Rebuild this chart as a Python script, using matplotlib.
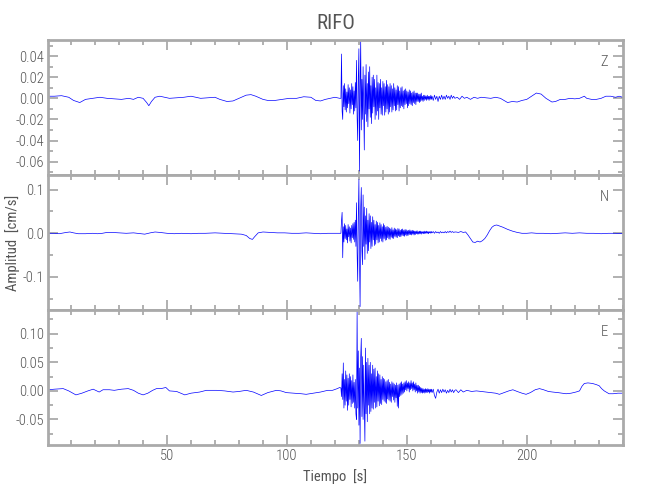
import numpy as np
import matplotlib
matplotlib.use('Agg')
import matplotlib.pyplot as plt
from matplotlib.ticker import MultipleLocator, FormatStrFormatter
from matplotlib import font_manager

station = 'RIFO'
components = ['Z', 'N', 'E']
scale = 1e-3   # todos los valores en 1e-3 cm/s

# tramo en calma antes del arribo (tiempo, amplitud)
z_pre_t = [0.5, 3, 6, 9, 11, 13.6, 16, 19, 22, 25, 28, 31, 34, 36, 38, 40, 41.5, 42.4, 43.5, 45, 47, 49,
           51, 54, 57, 60, 62, 64, 67, 70, 72, 75, 77.5, 80, 83, 85, 87, 90, 92, 95, 98, 101, 104, 107,
           110, 112, 114, 116, 118, 120, 122]
z_pre_v = [2, 2, 2.5, 1, -2, -4, -1, 0, 1, 0, -0.5, -1, 0, -1, 1, 0, -4, -7, -3, 1, 2, 1, 0, 0.5, 1, 2,
           1, 0, 0.5, 1, -1, -3, -2.5, 0, 3, 3.5, 2, -1, -2, -2, -1, 0, 0, 1.5, 1, -2, -2.5, -1, 0, 1, 0]
# fase fuerte, muestras cada 0.25 s desde 122.5 s
z_burst = [0, 42, -12, -20,  12, -8, 14, -11,  9, -13, 6, -9,  13, -5, 10, -14,
           8, -10, 14, -6,  11, -15, 7, -12,  15, -9, 36, -18,  -40, 20, 47, -69,
           10, 55, -30, 18,  -20, 30, -12, -49,  22, -15, 32, -22,  14, -27, 25, -10,
           30, -18, 12, -24,  20, -14, 22, -8,  18, -20, 10, -16,  22, -12, 15, -20,
           14, -9, 18, -15,  10, -16, 16, -7,  14, -16, 11, -13,  17, -10, 13, -15,
           11, -13, 14, -8,  12, -13, 9, -11,  14, -7, 10, -12,  8, -11, 12, -6,
           11, -12, 7, -9,  10, -7, 11, -8,  7, -10, 8, -6,  9, -5, 7, -9,
           6, -7, 8, -5,  7, -6, 5, -7,  6, -4, 7, -5,  5, -6, 5, -3,
           5, -3, 4, -4,  4, -3, 5, -2,  2, -3, 3, -2,  3, -1, 2, -2,
           3, -1, 2, -2,  2, -1, 3, -1]
z_post_t = [160.5, 161, 161.5, 162, 162.5, 163, 163.5, 164, 164.5, 165, 165.5, 166, 166.5, 167, 167.5,
            168, 168.5, 169, 169.5, 170, 171, 172, 173, 174, 175, 176.5, 178, 179.5, 181, 183, 185, 187,
            189, 190.5, 192, 194, 196, 198, 200, 202, 204, 206, 208, 210.5, 212, 214, 216, 218, 220, 222,
            224, 225, 227, 229, 231, 233, 235, 237, 238.5, 240]
z_post_v = [2, -2, 3, -1, 2, -3, 2, -1, 3, -1, 2, -1, 3, 0, 2, -1, 3, 0, 2, 0,
            1, -1, 2, 0, 1, -1, 1, 0, 1, 0.5, 0, 1, 0, -2, -4, -3, -3.5, -2, -1, 2, 5, 4, 0, -3.5, -3,
            -1, -1, 0, -0.5, 0, 2, 0, -1, -1, 0, 2, 2, 1, 2, 1]

n_pre_t = [0.5, 3, 5, 8, 9.5, 11, 13, 16, 19, 21, 23, 25, 27, 30, 33, 36, 39, 40.7, 43, 45, 47, 50, 53,
           56, 60, 63, 66, 70, 74, 78, 81, 83, 84.5, 85.6, 86.5, 88, 90, 93, 96, 99, 102, 105, 108, 111,
           114, 117, 120, 122]
n_pre_v = [0, 0, -1, 2, 3, 1, -1, -1, 0, -1, 0, 2, 2, 1, 0, 1, -1, -2, 1, 3, 2, 0, -1, 0, -1, 0, 0, 1,
           0, -1, -2, -5, -12, -14, -8, 1, 3, 2, 1, 1, 0, 0, 1, 0, -1, 0, 0, 0]
n_burst = [0, 30, 48, -56,  15, -20, 22, -12,  18, -15, 10, -22,  20, -8, 15, -18,
           12, -22, 18, -10,  22, -14, 25, -20,  30, -30, 70, -45,  -110, 40, 123, -60,
           -168, 60, 105, -40,  -72, 88, -30, 60,  -60, 40, -25, 57,  -46, 30, -40, 45,
           -20, 40, -35, 25,  -30, 38, -15, 30,  -28, 20, -25, 28,  -15, 25, -22, 18,
           -20, 24, -12, 20,  -18, 15, -20, 22,  -12, 18, -16, 14,  -15, 16, -10, 14,
           -13, 12, -14, 10,  -9, 13, -11, 8,  -12, 12, -7, 10,  -9, 8, -10, 11,
           -6, 10, -8, 7,  -8, 9, -5, 10,  -6, 7, -7, 9,  -4, 8, -6, 6,
           -5, 7, -3, 8,  -3, 6, -4, 7,  -2, 6, -4, 5,  -3, 5, -1, 6,
           -2, 4, -2, 5,  -1, 5, -2, 4,  0, 4, -1, 5,  -1, 4, 0, 5,
           0, 4, -1, 4,  1, 4, 0, 4]
n_post_t = [160.5, 161, 161.5, 162, 162.5, 163, 163.5, 164, 164.5, 165, 165.5, 166, 166.5, 167, 167.5,
            168, 168.5, 169, 169.5, 170, 170.5, 171.5, 172.5, 173.5, 174.5, 175.5, 176.5, 177.5, 178.5,
            179.5, 180.5, 181.5, 182.5, 183.5, 184.5, 185.5, 186.5, 187.5, 188.5, 190, 192, 194, 196,
            198, 200, 202, 204, 207, 210, 213, 216, 219, 222, 225, 228, 231, 234, 237, 240]
n_post_v = [1, 4, 0, 4, 1, 3, 0, 4, 1, 3, 1, 4, 1, 4, 2, 5, 2, 4, 2, 3,
            3, 2, 4, 2, 3, -4, -12, -20, -21, -18, -20, -17, -12, -4, 6, 14, 18, 19, 17, 14, 9, 5, 2,
            0, 0, 1, 0, 0, -1, 0, 1, 0, 1, 0, 0, -1, 0, 0, -1]

e_pre_t = [0.5, 3, 6.7, 9, 12, 14.5, 17, 19.2, 21.7, 23.3, 26, 28, 31, 33.8, 36, 38, 40, 42, 44, 45.6,
           47.5, 49.5, 51, 54, 57.4, 60, 63.6, 66.4, 70.6, 74, 77.5, 80, 83, 86, 89.3, 92, 95.6, 97.5,
           99.7, 103, 106, 108, 111, 114, 117, 119, 121, 122]
e_pre_v = [2, 3, 4, 0, -7, -4, 0, 3, -2, 2, 2, 1, 3, 4, 1, -4, -7, -4, 1, 4, 4, 6, 0, -1, -7, -4, -2, 1,
           1, 0, -2, -1, 1, -2, -8, -3, 1, 0, -3, -4, -5, -6, -4, -2, 1, 1, 4, 6]
e_burst = [5, -10, 30, -15,  49, -30, 20, -25,  35, -18, 28, -34,  22, -25, 30, -15,
           25, -28, 18, -22,  28, -20, 15, -30,  20, -40, -50, 140,  -30, 70, -60, 40,
           -92, 60, 92, -45,  60, -50, 45, -30,  -88, 75, -40, 50,  -54, 57, -25, 45,
           -40, 50, -36, 30,  -30, 45, -32, 38,  -20, 40, -30, 25,  -28, 35, -18, 30,
           -26, 28, -22, 20,  -24, 25, -15, 22,  -18, 20, -20, 16,  -22, 18, -14, 20,
           -16, 15, -18, 12,  -20, 16, -10, 14,  -16, 12, -20, 10,  -12, 14, -27, 10,
           -30, 12, -10, 14,  -8, 16, -6, 12,  -4, 14, -2, 16,  2, 18, 0, 14,
           4, 16, -2, 14,  2, 18, 4, 14,  0, 16, 2, 12,  -2, 14, 0, 10,
           -4, 10, -2, 8,  -4, 6, -3, 5,  -4, 4, -3, 3,  -4, 4, -3, 3,
           -3, 4, -2, 3,  -4, 3, -2, 3]
e_post_t = [160.5, 161, 161.5, 162, 162.5, 163, 163.5, 164, 164.5, 165, 165.5, 166, 166.5, 167, 167.5,
            168, 168.5, 169, 169.5, 170, 170.5, 171.5, 172.5, 173.5, 175, 177, 179, 181, 183, 185, 187,
            188.6, 190.5, 192.5, 194.2, 196, 198, 199.7, 201.5, 203.5, 205.3, 207, 209, 210.8, 213,
            216.4, 218.5, 220.5, 222, 223, 224, 225.5, 227.4, 229, 230.2, 231.2, 232.3, 234.3, 236,
            238, 240]
e_post_v = [-3, 3, -8, -13, -2, 3, -4, 2, -3, 3, -2, 2, -4, 1, -3, 3, -2, 2, -3, 1,
            2, -3, 2, -2, 1, -1, 0, -1, -2, -3, -4, -6, -3, 0, 2, -1, -4, -6, -3, 2, 4, 2, -1, -2, -3,
            -5, -4, -2, 0, 8, 13, 14, 13, 11, 9, 4, 0, -5, -5, -4, -4]

burst_t0 = 122.5
burst_dt = 0.25

ylims = [(-0.0727, 0.0553), (-0.1758, 0.1336), (-0.0947, 0.1416)]
ymajor = [0.02, 0.1, 0.05]
yminor = [0.01, 0.05, 0.025]
yfmt = ['%.2f', '%.1f', '%.2f']

# fuente estrecha parecida a la de IDL
names = set(f.name for f in font_manager.fontManager.ttflist)
fam = 'DejaVu Sans'
for c in ['Roboto Condensed', 'Liberation Sans Narrow', 'PT Sans Narrow', 'Archivo Narrow']:
    if c in names:
        fam = c
        break
plt.rcParams['font.family'] = [fam, 'DejaVu Sans']
plt.rcParams['font.weight'] = 'light'

gray = '#aaaaaa'
txt = '#555555'

def trace(pre_t, pre_v, burst, post_t, post_v):
    bt = burst_t0 + burst_dt * np.arange(len(burst))
    t = np.concatenate([pre_t, bt, post_t])
    v = np.concatenate([pre_v, burst, post_v]) * scale
    return t, v

traces = [trace(z_pre_t, z_pre_v, z_burst, z_post_t, z_post_v),
          trace(n_pre_t, n_pre_v, n_burst, n_post_t, n_post_v),
          trace(e_pre_t, e_pre_v, e_burst, e_post_t, e_post_v)]

fig = plt.figure(figsize=(6.5, 5), dpi=100)
bottoms = [0.65, 0.38, 0.11]
axs = []
for i in range(3):
    ax = fig.add_axes([0.074, bottoms[i], 0.884, 0.27])
    t, v = traces[i]
    ax.plot(t, v, color='#0000ff', lw=0.5)
    ax.set_xlim(0.4, 240)
    ax.set_ylim(*ylims[i])
    ax.xaxis.set_major_locator(MultipleLocator(50))
    ax.xaxis.set_minor_locator(MultipleLocator(10))
    ax.yaxis.set_major_locator(MultipleLocator(ymajor[i]))
    ax.yaxis.set_minor_locator(MultipleLocator(yminor[i]))
    ax.yaxis.set_major_formatter(FormatStrFormatter(yfmt[i]))
    for s in ax.spines.values():
        s.set_color(gray)
        s.set_linewidth(2)
    ax.tick_params(which='both', direction='in', top=True, right=True, color=gray,
                   labelcolor=txt, labelsize=10.5, width=1.3)
    ax.tick_params(which='major', length=7, pad=3)
    ax.tick_params(which='minor', length=3.5)
    if i < 2:
        ax.tick_params(labelbottom=False)
    ax.text(0.975, 0.84, components[i], transform=ax.transAxes, ha='right', va='center',
            color=txt, fontsize=10.5)
    axs.append(ax)

axs[0].set_title(station, color=txt, fontsize=15, pad=8)
axs[1].set_ylabel('Amplitud  [cm/s]', color=txt, fontsize=10.5, labelpad=2)
axs[2].set_xlabel('Tiempo  [s]', color=txt, fontsize=10.5, labelpad=4)

fig.savefig('out.png', dpi=100)
